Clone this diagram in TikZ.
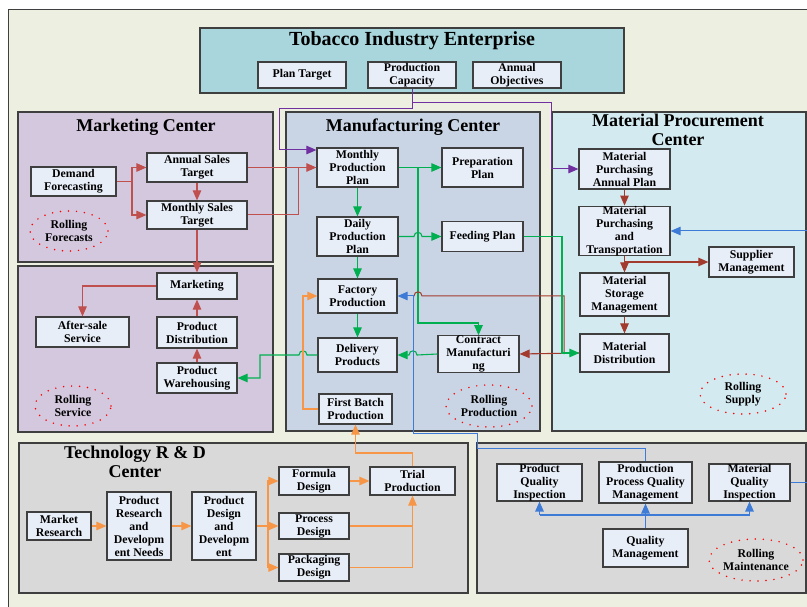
\documentclass[tikz,border=0pt]{standalone}
\usepackage{fontspec}
\setmainfont{Liberation Serif}
\usetikzlibrary{arrows.meta,shapes.geometric,calc}
\definecolor{bgc}{HTML}{EDF0E1}
\definecolor{topc}{HTML}{A9D6DD}
\definecolor{mktc}{HTML}{D4C8DE}
\definecolor{manc}{HTML}{C9D5E5}
\definecolor{proc}{HTML}{D3EAF0}
\definecolor{grayc}{HTML}{D9D9D9}
\definecolor{boxc}{HTML}{E8EEF8}
\definecolor{redc}{HTML}{C0504D}
\definecolor{brownc}{HTML}{A33A2E}
\definecolor{greenc}{HTML}{00B050}
\definecolor{bluec}{HTML}{3D7BD6}
\definecolor{orangec}{HTML}{F79646}
\definecolor{purplec}{HTML}{7030A0}
\definecolor{framec}{HTML}{3F3F3F}
\begin{document}
\begin{tikzpicture}[x=1pt,y=-1pt,
 region/.style={draw=framec,line width=1.2pt},
 bx/.style={draw=framec,line width=1.2pt,fill=boxc,font=\bfseries\fontsize{11.8}{13}\selectfont,align=center,inner sep=0pt},
 ttl/.style={font=\bfseries\fontsize{18}{19}\selectfont,align=center,inner sep=0pt},
 roll/.style={ellipse,draw=red,line width=1.7pt,dash pattern=on 0pt off 8pt,line cap=round,font=\bfseries\fontsize{11.8}{13}\selectfont,align=center,inner sep=0pt},
 arr/.style={line width=1.1pt,-{Triangle[length=10pt,width=8.5pt]}},
 ln/.style={line width=1.1pt},
]
\useasboundingbox (0,0) rectangle (807,607);
\fill[white] (0,0) rectangle (807,607);
\draw[fill=bgc,draw=framec,line width=1pt] (8,10) rectangle (830,640);
% regions
\draw[region,fill=topc] (200,28) rectangle (624,93);
\draw[region,fill=mktc] (18,112) rectangle (273,262);
\draw[region,fill=mktc] (18,266) rectangle (273,432);
\draw[region,fill=manc] (286,112) rectangle (540,431);
\draw[region,fill=proc] (552,112) rectangle (806,431);
\draw[region,fill=grayc] (19,443) rectangle (468,593);
\draw[region,fill=grayc] (477,443) rectangle (806,593);
% titles
\node[ttl,font=\bfseries\fontsize{20}{21}\selectfont] (tTop) at (412,41) {Tobacco Industry Enterprise};
\node[ttl] (tMkt) at (146,127) {Marketing Center};
\node[ttl] (tMan) at (413,127) {Manufacturing Center};
\node[ttl] (tPro) at (678,130) {Material Procurement\\Center};
\node[ttl] (tTech) at (135,461.5) {Technology R \& D\\Center};
% top boxes
\node[bx,minimum width=88pt,minimum height=26pt] (planT) at (302,75) {Plan Target};
\node[bx,minimum width=88pt,minimum height=26pt] (prodCap) at (412,75) {Production\\Capacity};
\node[bx,minimum width=88pt,minimum height=26pt] (annObj) at (517,75) {Annual\\Objectives};
% marketing
\node[bx,minimum width=85pt,minimum height=29pt] (DF) at (73.5,181.5) {Demand\\Forecasting};
\node[bx,minimum width=100pt,minimum height=29pt] (AST) at (197,167.5) {Annual Sales\\Target};
\node[bx,minimum width=100pt,minimum height=28pt] (MST) at (197,215) {Monthly Sales\\Target};
\node[roll,minimum width=78pt,minimum height=40pt] (RF) at (69,231) {Rolling\\Forecasts};
\node[bx,minimum width=80pt,minimum height=26pt] (Mkt) at (197,286) {Marketing};
\node[bx,minimum width=93pt,minimum height=30pt] (ASS) at (82.5,332) {After-sale\\Service};
\node[bx,minimum width=80pt,minimum height=31pt] (PD) at (197,332.5) {Product\\Distribution};
\node[bx,minimum width=80pt,minimum height=30pt] (PW) at (197,378) {Product\\Warehousing};
\node[roll,minimum width=76pt,minimum height=40pt] (RS) at (73,406) {Rolling\\Service};
% manufacturing
\node[bx,minimum width=81pt,minimum height=39pt] (MPP) at (357.5,167.5) {Monthly\\Production\\Plan};
\node[bx,minimum width=81pt,minimum height=39pt] (PP) at (482.5,167.5) {Preparation\\Plan};
\node[bx,minimum width=81pt,minimum height=39pt] (DPP) at (357.5,236.5) {Daily\\Production\\Plan};
\node[bx,minimum width=81pt,minimum height=30pt] (FeP) at (482.5,236.5) {Feeding Plan};
\node[bx,minimum width=79pt,minimum height=34pt] (FP) at (357.5,296) {Factory\\Production};
\node[bx,minimum width=79pt,minimum height=34pt] (DP) at (357.5,355) {Delivery\\Products};
\node[bx,minimum width=81pt,minimum height=35pt] (CM) at (478.5,354) {Contract\\Manufacturi\\ng};
\node[bx,minimum width=73pt,minimum height=30pt] (FBP) at (355.5,409) {First Batch\\Production};
\node[roll,minimum width=86pt,minimum height=42pt] (RP) at (489,406) {Rolling\\Production};
% procurement
\node[bx,minimum width=91pt,minimum height=40pt] (MPAP) at (624.5,169) {Material\\Purchasing\\Annual Plan};
\node[bx,minimum width=91pt,minimum height=49pt] (MPT) at (624.5,231) {Material\\Purchasing\\and\\Transportation};
\node[bx,minimum width=85pt,minimum height=30pt] (SM) at (751.5,262) {Supplier\\Management};
\node[bx,minimum width=89pt,minimum height=43pt] (MSM) at (624.5,294.5) {Material\\Storage\\Management};
\node[bx,minimum width=89pt,minimum height=38pt] (MD) at (624.5,353) {Material\\Distribution};
\node[roll,minimum width=86pt,minimum height=40pt] (RSu) at (743,394) {Rolling\\Supply};
% technology
\node[bx,minimum width=64pt,minimum height=28pt] (MR) at (59,526) {Market\\Research};
\node[bx,minimum width=64pt,minimum height=68pt] (PRDN) at (139,526) {Product\\Research\\and\\Developm\\ent Needs};
\node[bx,minimum width=64pt,minimum height=68pt] (PDD) at (224,526) {Product\\Design\\and\\Developm\\ent};
\node[bx,minimum width=70pt,minimum height=28pt] (FD) at (314,481) {Formula\\Design};
\node[bx,minimum width=70pt,minimum height=26pt] (PrD) at (314,526) {Process\\Design};
\node[bx,minimum width=70pt,minimum height=27pt] (PaD) at (314,567.5) {Packaging\\Design};
\node[bx,minimum width=85pt,minimum height=28pt] (TP) at (412.5,481) {Trial\\Production};
% quality
\node[bx,minimum width=85pt,minimum height=37pt] (PQI) at (539.5,482.5) {Product\\Quality\\Inspection};
\node[bx,minimum width=93pt,minimum height=41pt] (PPQM) at (645.5,482.5) {Production\\Process Quality\\Management};
\node[bx,minimum width=81pt,minimum height=37pt] (MQI) at (749.5,482.5) {Material\\Quality\\Inspection};
\node[bx,minimum width=85pt,minimum height=38pt] (QM) at (645.5,548) {Quality\\Management};
\node[roll,minimum width=94pt,minimum height=42pt] (RM) at (756,560) {Rolling\\Maintenance};
% purple
\draw[arr,purplec,line width=1pt] (prodCap.south) -- (412,109) -- (279,109) -- (279,150) -- ([yshift=17.5pt]MPP.west);
\draw[arr,purplec,line width=1pt] (412,103) -- (551,103) -- (551,169) -- (MPAP.west);
% red marketing
\draw[ln,redc] (DF.east) -- (132,181.5);
\draw[arr,redc] (132,181.5) |- (AST.west);
\draw[arr,redc] (132,181.5) |- (MST.west);
\draw[arr,redc] (AST.south) -- (MST.north);
\draw[arr,redc,line width=1pt] (AST.east) -- (MPP.west);
\draw[ln,redc,line width=1pt] (MST.east) -- (298,215) -- (298,167.5);
\draw[arr,redc] (MST.south) -- (Mkt.north);
\draw[arr,redc] (Mkt.west) -| (ASS.north);
\draw[arr,redc] (PD.north) -- (Mkt.south);
\draw[arr,redc] (PW.north) -- (PD.south);
% green
\draw[arr,greenc] (MPP.east) -- (PP.west);
\draw[arr,greenc] (418,167.5) -- (418,323) -| (CM.north);
\draw[arr,greenc] (MPP.south) -- (DPP.north);
\draw[arr,greenc] (DPP.east) -- (414,236.5) .. controls (414,231) and (422,231) .. (422,236.5) -- (FeP.west);
\draw[arr,greenc] (DPP.south) -- (FP.north);
\draw[arr,greenc] (FP.south) -- (DP.north);
\draw[arr,greenc] (CM.west) -- (417,355) .. controls (417,349.5) and (409,349.5) .. (409,355) -- (DP.east);
\draw[arr,greenc] (DP.west) -- (307,355) .. controls (307,349.5) and (299,349.5) .. (299,355) -- (260,355) -- (260,378) -- (PW.east);
% brown
\draw[arr,brownc] (MPAP.south) -- (MPT.north);
\draw[arr,brownc] (MPT.south) -- (MSM.north);
\draw[arr,brownc] (624.5,262) -- (SM.west);
\draw[arr,brownc] (MSM.south) -- (MD.north);
\draw[arr,brownc] (MD.west) -- (CM.east);
\draw[ln,brownc,line width=1pt] (564,354) -- (564,296) -- (422,296) .. controls (422,290.5) and (414,290.5) .. (414,296) -- (413,296);
\draw[arr,greenc] (FeP.east) -- (562,236.5) -- (562,353) -- (MD.west);
% blue
\draw[arr,bluec,line width=1pt] (PPQM.north) -- (645.5,448) -- (477,448) -- (477,433) -- (413,433) -- (413,296) -- (FP.east);
\draw[arr,bluec,line width=1pt] (MQI.east) -- (810,482.5) -- (810,231) -- (MPT.east);
\draw[arr,bluec,line width=1.4pt] (QM.north) -- (PPQM.south);
\draw[ln,bluec,line width=1.4pt] (539.5,515) -- (749.5,515);
\draw[arr,bluec,line width=1.4pt] (539.5,515) -- (PQI.south);
\draw[arr,bluec,line width=1.4pt] (749.5,515) -- (MQI.south);
% orange
\draw[arr,orangec] (MR.east) -- (PRDN.west);
\draw[arr,orangec] (PRDN.east) -- (PDD.west);
\draw[ln,orangec] (PDD.east) -- (268,526);
\draw[arr,orangec] (268,526) |- (FD.west);
\draw[arr,orangec] (268,526) |- (PaD.west);
\draw[arr,orangec] (268,526) -- (PrD.west);
\draw[arr,orangec] (FD.east) -- (TP.west);
\draw[ln,orangec] (PrD.east) -- (412.5,526);
\draw[arr,orangec] (PaD.east) -| (TP.south);
\draw[arr,orangec] (TP.north) -- (412.5,453) -| (FBP.south);
\draw[arr,orangec] (FBP.west) -- (303,409) |- (FP.west);
\end{tikzpicture}
\end{document}
